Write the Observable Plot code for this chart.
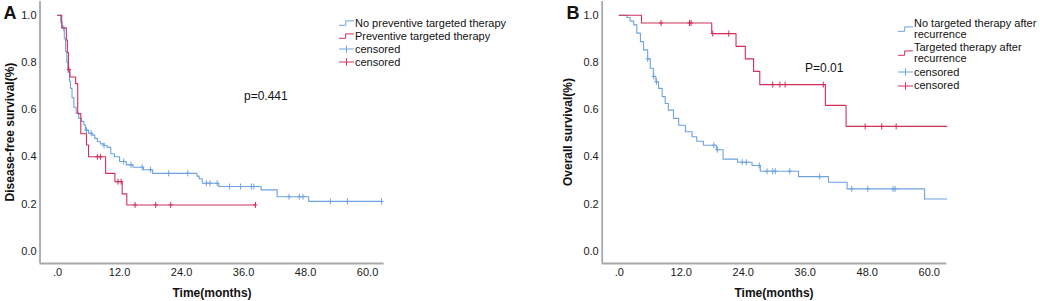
<!DOCTYPE html>
<html><head><meta charset="utf-8">
<script src="https://cdn.jsdelivr.net/npm/d3@7"></script>
<script src="https://cdn.jsdelivr.net/npm/@observablehq/plot@0.6"></script>
<style>
html,body{margin:0;padding:0;background:#fff;}
#wrap{position:relative;width:1040px;height:301px;overflow:hidden;font-family:"Liberation Sans",Arial,sans-serif;color:#111;}
.panel{position:absolute;top:0;}
.t{position:absolute;white-space:nowrap;}
.letter{font-size:18px;line-height:18px;font-weight:bold;}
.ylab{font-size:12px;line-height:12px;font-weight:bold;transform:translate(-50%,-50%) rotate(-90deg);}
.xlab{font-size:12px;line-height:12px;font-weight:bold;transform:translateX(-50%);}
.pval{font-size:12px;line-height:12px;}
.leg{font-size:11px;}
svg.icon{position:absolute;overflow:visible;}
</style></head>
<body><div id="wrap"></div>
<script>
// ---------- data ----------
const xTicks = [0, 12, 24, 36, 48, 60];
const xTickLabels = [".0", "12.0", "24.0", "36.0", "48.0", "60.0"];
const yTicks = [0, 0.2, 0.4, 0.6, 0.8, 1.0];
const yTickLabels = ["0.0", "0.2", "0.4", "0.6", "0.8", "1.0"];

// Panel A: disease-free survival
const aNoTimes = [0, 0.6, 0.9, 1.3, 1.55, 1.8, 2.0, 2.3, 2.5, 2.8, 3.15, 3.6, 4.1, 4.6, 5.1, 5.4, 6.0, 6.7, 7.2, 7.7, 8.3, 9.0, 9.6, 10.3, 11.0, 12.0, 13.3, 14.6, 16.6, 18.4, 27.0, 27.4, 28.0, 31.2, 39.4, 42.5, 48.6, 62.7];
const aNoSurv  = [1.0, 0.97, 0.945, 0.90, 0.846, 0.80, 0.76, 0.72, 0.69, 0.65, 0.61, 0.585, 0.563, 0.55, 0.535, 0.513, 0.50, 0.492, 0.478, 0.464, 0.455, 0.448, 0.44, 0.413, 0.40, 0.38, 0.366, 0.356, 0.345, 0.33, 0.318, 0.307, 0.288, 0.274, 0.26, 0.231, 0.211, 0.211];
const aNoCensored = [1.2, 5.6, 6.5, 9.0, 12.8, 14.2, 16.4, 18.0, 21.5, 25.2, 28.8, 29.5, 30.9, 33.3, 35.4, 37.5, 38.0, 44.8, 46.8, 47.5, 52.8, 56.1, 62.7];
const aYesTimes = [0, 0.8, 1.7, 1.9, 2.1, 2.4, 3.5, 3.9, 4.5, 5.6, 6.0, 9.3, 11.1, 12.5, 13.4, 38.3];
const aYesSurv  = [1.0, 0.947, 0.895, 0.842, 0.77, 0.738, 0.71, 0.583, 0.498, 0.45, 0.40, 0.33, 0.295, 0.243, 0.196, 0.196];
const aYesCensored = [2.2, 7.7, 8.3, 11.7, 12.3, 15.0, 19.0, 21.9, 38.3];

// Panel B: overall survival
const bNoTimes = [0, 1.5, 2.1, 2.8, 3.4, 4.1, 4.7, 5.5, 6.0, 6.6, 7.1, 7.6, 8.3, 8.9, 9.5, 10.5, 11.5, 12.8, 14.1, 15.0, 16.3, 18.8, 20.1, 22.9, 25.7, 27.3, 34.7, 40.5, 44.1, 59.1, 63.4];
const bNoSurv  = [1.0, 0.99, 0.975, 0.959, 0.924, 0.888, 0.853, 0.815, 0.775, 0.74, 0.718, 0.69, 0.655, 0.626, 0.598, 0.563, 0.534, 0.506, 0.485, 0.466, 0.449, 0.43, 0.39, 0.377, 0.363, 0.339, 0.316, 0.292, 0.264, 0.221, 0.221];
const bNoCensored = [5.5, 6.7, 7.2, 18.3, 19.0, 23.8, 24.6, 27.1, 28.6, 29.7, 30.2, 33.0, 38.8, 45.0, 48.1, 53.0, 53.4];
const bYesTimes = [0, 4.3, 17.9, 22.6, 24.4, 26.0, 27.2, 39.9, 43.9, 63.4];
const bYesSurv  = [1.0, 0.967, 0.922, 0.868, 0.815, 0.762, 0.706, 0.618, 0.529, 0.529];
const bYesCensored = [8.1, 13.6, 13.9, 18.1, 21.2, 29.7, 31.1, 32.1, 39.5, 47.6, 50.8, 53.6];

const legendA = ["No preventive targeted therapy", "Preventive targeted therapy", "censored", "censored"];
const legendB = ["No targeted therapy after recurrence", "Targeted therapy after recurrence", "censored", "censored"];
const yTitleA = "Disease-free survival(%)";
const yTitleB = "Overall survival(%)";
const xTitle = "Time(months)";
const pA = "p=0.441";
const pB = "P=0.01";

// ---------- drawing ----------
const blue = "#6ea2e0";
const red = "#d22e5a";
const font = '"Liberation Sans", Arial, sans-serif';

const plusSymbol = {
  draw(ctx, size) {
    const r = Math.sqrt(size / Math.PI);
    ctx.moveTo(0, -r); ctx.lineTo(0, r);
    ctx.moveTo(-r * 0.7, 0); ctx.lineTo(r * 0.7, 0);
  }
};

function stepAt(times, surv, t) {
  return surv[Math.max(0, d3.bisectRight(times, t) - 1)];
}

function kmPanel({series, xmin, xmax, marginLeft, marginRight}) {
  const marks = [
    Plot.axisX(xTicks, {tickSize: 0, tickPadding: 5, label: null,
      tickFormat: d => xTickLabels[xTicks.indexOf(d)]}),
    Plot.axisY(yTicks, {tickSize: 0, tickPadding: 3.5, label: null,
      tickFormat: d => yTickLabels[yTicks.indexOf(d)]}),
    Plot.ruleX([xmin], {stroke: "#a9a9a9", strokeWidth: 1.8}),
    Plot.ruleY([-0.052], {stroke: "#a9a9a9", strokeWidth: 1.8})
  ];
  for (const s of series) {
    const pts = s.times.map((t, i) => ({t, v: s.surv[i]}));
    const cens = s.censored.map(t => ({t, v: stepAt(s.times, s.surv, t)}));
    marks.push(Plot.line(pts, {x: "t", y: "v", curve: "step-after", stroke: s.color, strokeWidth: 1.1}));
    marks.push(Plot.dot(cens, {x: "t", y: "v", symbol: plusSymbol, r: 3, fill: "none", stroke: s.color, strokeWidth: 1}));
  }
  return Plot.plot({
    width: 520, height: 301,
    marginLeft, marginRight, marginTop: 1, marginBottom: 38,
    x: {domain: [xmin, xmax], label: null},
    y: {domain: [-0.052, 1.058], label: null},
    style: {fontFamily: font, fontSize: "11px", color: "#1a1a1a", background: "transparent", overflow: "visible"},
    marks
  });
}

const wrap = document.getElementById("wrap");

function addPanel(svg, left) {
  svg.classList.add("panel");
  svg.style.left = left + "px";
  wrap.appendChild(svg);
}

addPanel(kmPanel({
  series: [
    {times: aNoTimes, surv: aNoSurv, censored: aNoCensored, color: blue},
    {times: aYesTimes, surv: aYesSurv, censored: aYesCensored, color: red}
  ],
  xmin: -3.4, xmax: 63.2, marginLeft: 39.5, marginRight: 136.4
}), 0);

addPanel(kmPanel({
  series: [
    {times: bNoTimes, surv: bNoSurv, censored: bNoCensored, color: blue},
    {times: bYesTimes, surv: bYesSurv, censored: bYesCensored, color: red}
  ],
  xmin: -3.3, xmax: 63.4, marginLeft: 81.7, marginRight: 93.7
}), 520);

function addText(cls, text, left, top, extra) {
  const d = document.createElement("div");
  d.className = "t " + cls;
  d.textContent = text;
  d.style.left = left + "px";
  d.style.top = top + "px";
  if (extra) Object.assign(d.style, extra);
  wrap.appendChild(d);
  return d;
}

function addIcon(kind, color, left, cy) {
  const ns = "http://www.w3.org/2000/svg";
  const svg = document.createElementNS(ns, "svg");
  svg.setAttribute("class", "icon");
  svg.setAttribute("width", 16);
  svg.setAttribute("height", 12);
  svg.style.left = left + "px";
  svg.style.top = (cy - 6) + "px";
  const p = document.createElementNS(ns, "path");
  p.setAttribute("d", kind === "step" ? "M0,8.3 H6.7 V3.9 H15" : "M0,6 H15 M7.5,2.3 V9.7");
  p.setAttribute("fill", "none");
  p.setAttribute("stroke", color);
  p.setAttribute("stroke-width", 1);
  svg.appendChild(p);
  wrap.appendChild(svg);
}

// panel letters
addText("letter", "A", 3.5, 4.2);
addText("letter", "B", 566.5, 4.2);

// axis titles
addText("ylab", yTitleA, 10, 132);
addText("ylab", yTitleB, 568, 132);
addText("xlab", xTitle, 212, 286.8);
addText("xlab", xTitle, 774, 286.8);

// p-values
addText("pval", pA, 244, 89.8);
addText("pval", pB, 805, 62.4);

// legend A
const colorsLeg = [blue, red, blue, red];
const kindsLeg = ["step", "step", "cross", "cross"];
const centersA = [23.2, 36.2, 49.3, 62.3];
legendA.forEach((label, i) => {
  addIcon(kindsLeg[i], colorsLeg[i], 339.3, centersA[i]);
  addText("leg", label, 355, centersA[i] - 6.5, {lineHeight: "13px"});
});

// legend B
const topsB = [18, 42.4, 67, 80.4];
const iconCentersB = [28.5, 53, 72.3, 85.7];
legendB.forEach((label, i) => {
  addIcon(kindsLeg[i], colorsLeg[i], 897.7, iconCentersB[i]);
  addText("leg", label, 914, topsB[i], {lineHeight: "10.5px", whiteSpace: "normal", width: "125px"});
});
</script>
</body></html>
